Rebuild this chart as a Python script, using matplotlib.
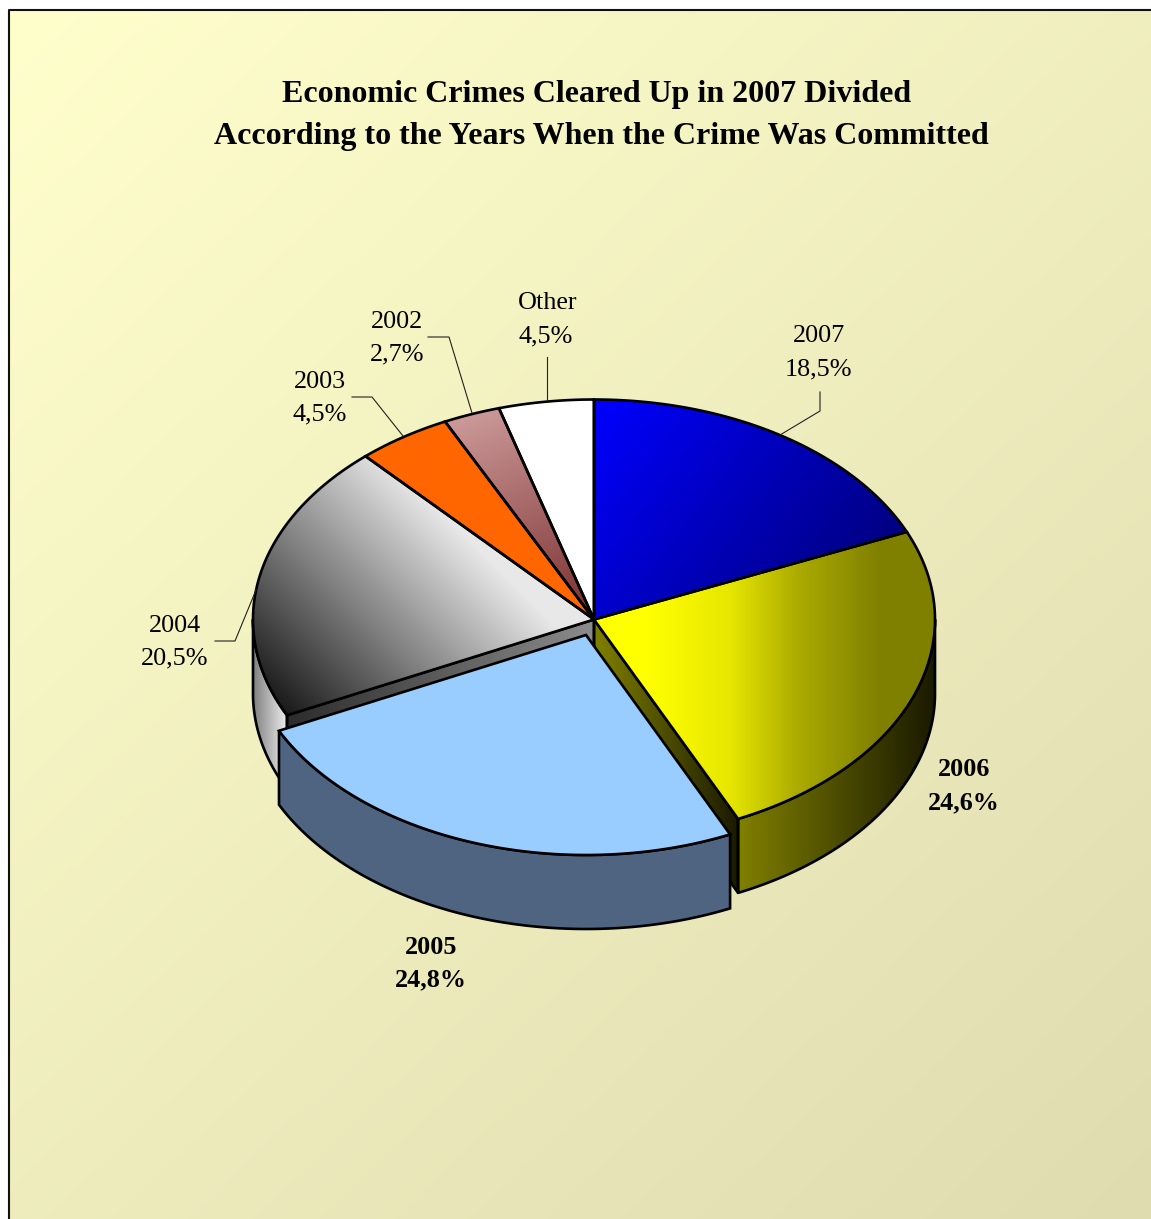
import numpy as np
import matplotlib
matplotlib.use('Agg')
import matplotlib.pyplot as plt
from matplotlib.colors import LinearSegmentedColormap
from matplotlib.patches import Polygon

W, H = 1151, 1219

title_lines = ['Economic Crimes Cleared Up in 2007 Divided',
               'According to the Years When the Crime Was Committed']
years = ['2007', '2006', '2005', '2004', '2003', '2002', 'Other']
shares = [18.5, 24.6, 24.8, 20.5, 4.5, 2.7, 4.5]
share_labels = ['18,5%', '24,6%', '24,8%', '20,5%', '4,5%', '2,7%', '4,5%']

# pie geometry in pixels
CX, CY = 594, 619.5
RX, RY = 341, 220
DEPTH = 74
EXPLODE = (-8, 15.5)

# label centres (year line, share line) and leader lines
label_pos = {
    '2007': ((819, 336), (818, 369)),
    '2006': ((964, 770), (964, 803)),
    '2005': ((431, 948), (431, 980)),
    '2004': ((175, 626), (175, 658)),
    '2003': ((320, 382), (320, 414)),
    '2002': ((397, 322), (397, 354)),
    'Other': ((548, 303), (546, 336)),
}
leaders = {
    '2007': [(820, 392), (820, 411), (780, 435)],
    '2004': [(215, 641), (235, 641), (256, 590)],
    '2003': [(352, 397), (372, 397), (403, 436)],
    '2002': [(428, 337), (449, 337), (472, 413)],
    'Other': [(547, 357), (547, 400)],
}

plt.rcParams['font.family'] = ['Liberation Serif', 'DejaVu Serif']

fig = plt.figure(figsize=(W / 100, H / 100), dpi=100, facecolor='white')
ax = fig.add_axes([0, 0, 1, 1])
ax.axis('off')


def grad_fill(verts, colors, direction, t0=None, t1=None, zorder=2):
    """Fill a polygon with a linear gradient running along direction."""
    verts = np.asarray(verts, dtype=float)
    x0, y0 = verts.min(axis=0)
    x1, y1 = verts.max(axis=0)
    xs = np.arange(np.floor(x0), np.ceil(x1) + 1)
    ys = np.arange(np.floor(y0), np.ceil(y1) + 1)
    xx, yy = np.meshgrid(xs, ys)
    d = (xx * direction[0] + yy * direction[1])
    if t0 is None:
        proj = verts @ np.asarray(direction, dtype=float)
        t0, t1 = proj.min(), proj.max()
    cmap = LinearSegmentedColormap.from_list('g', colors)
    im = ax.imshow((d - t0) / (t1 - t0), cmap=cmap, vmin=0, vmax=1,
                   extent=(xs[0], xs[-1], ys[-1], ys[0]), aspect='auto',
                   interpolation='bilinear', zorder=zorder)
    clip = Polygon(verts, closed=True, transform=ax.transData)
    im.set_clip_path(clip)


def outline(verts, zorder=3, join='miter'):
    ax.add_patch(Polygon(verts, closed=True, fill=False, ec='black', lw=1.9,
                         joinstyle=join, zorder=zorder))


def rim(a0, a1, cx, cy, n=120):
    # angles in degrees, clockwise from the top of the pie
    t = np.radians(np.linspace(a0, a1, n))
    return np.column_stack([cx + RX * np.sin(t), cy - RY * np.cos(t)])


def wall(a0, a1, cx, cy):
    top = rim(a0, a1, cx, cy)
    bottom = top[::-1] + [0, DEPTH]
    return np.vstack([top, bottom])


def cut(a, cx, cy):
    p = rim(a, a, cx, cy, n=1)[0]
    c = np.array([cx, cy])
    return np.array([c, p, p + [0, DEPTH], c + [0, DEPTH]])


def sector(a0, a1, cx, cy):
    return np.vstack([[cx, cy], rim(a0, a1, cx, cy)])


ax.set_xlim(0, W)
ax.set_ylim(H, 0)

# chart area background
bg = [(9, 10), (W, 10), (W, H), (9, H)]
grad_fill(bg, ['#FFFFCC', '#DFDCB0'], (W - 9, H - 10), zorder=0)
ax.plot([9, 9, W], [H, 10, 10], color='#111111', lw=1.5, zorder=1)

edges = np.cumsum([0] + shares) / sum(shares) * 360
angle = dict(zip(years, zip(edges[:-1], edges[1:])))

# 2004 side and inner face
a0, a1 = angle['2004']
v = wall(a0, 270, CX, CY)
grad_fill(v, ['#808080', '#EDEDED'], (1, 0))
outline(v, join='round')
v = cut(a0, CX, CY)
grad_fill(v, ['#2A2A2A', '#8C8C8C'], (1, -0.1))
outline(v)

# 2006 side and inner face
a0, a1 = angle['2006']
v = wall(90, a1, CX, CY)
grad_fill(v, ['#808000', '#1A1A00'], (1, 0))
outline(v, join='round')
v = cut(a1, CX, CY)
grad_fill(v, ['#808000', '#1A1A00'], (1, 0))
outline(v)

# top faces: colours, direction, optional gradient range along the direction
yellow_stops = [(0, '#FFFF00'), (0.35, '#E6E600'), (0.65, '#AAAA00'), (1, '#808000')]
face_style = {
    '2007': (['#0000FF', '#000080'], (1, 0.75), None, None),
    '2006': (yellow_stops, (1, 0), 650, 880),
    '2004': (['#E8E8E8', '#1A1A1A'], (-1, 1), 70, 429),
    '2003': (['#FF6600', '#FF6600'], (1, 0), None, None),
    '2002': (['#CC9999', '#7A2E2E'], (0.4, 1), None, None),
    'Other': (['#FFFFFF', '#FFFFFF'], (1, 0), None, None),
}
for year in years:
    if year == '2005':
        continue
    a0, a1 = angle[year]
    v = sector(a0, a1, CX, CY)
    colors, direction, t0, t1 = face_style[year]
    grad_fill(v, colors, direction, t0, t1, zorder=4)
    outline(v, zorder=5)

# pulled out 2005 slice
a0, a1 = angle['2005']
ex, ey = CX + EXPLODE[0], CY + EXPLODE[1]
v = wall(a0, a1, ex, ey)
ax.add_patch(Polygon(v, closed=True, fc='#4F6480', ec='black', lw=1.9,
                     joinstyle='miter', zorder=6))
ax.add_patch(Polygon(sector(a0, a1, ex, ey), closed=True, fc='#99CCFF',
                     ec='black', lw=1.9, joinstyle='miter', zorder=7))

# leaders and labels
for year, pts in leaders.items():
    xs, ys = zip(*pts)
    ax.plot(xs, ys, color='#222222', lw=0.8, zorder=8)

for year, share in zip(years, share_labels):
    (x1, y1), (x2, y2) = label_pos[year]
    weight = 'bold' if year in ('2005', '2006') else 'normal'
    ax.text(x1, y1, year, ha='center', va='center', fontsize=18.8,
            fontweight=weight, color='black', zorder=9)
    ax.text(x2, y2, share, ha='center', va='center', fontsize=18.8,
            fontweight=weight, color='black', zorder=9)

ax.text(597, 94.5, title_lines[0], ha='center', va='center', fontsize=23,
        fontweight='bold', zorder=9)
ax.text(601, 136.5, title_lines[1], ha='center', va='center', fontsize=23,
        fontweight='bold', zorder=9)

fig.savefig('out.png', dpi=100, facecolor='white')
